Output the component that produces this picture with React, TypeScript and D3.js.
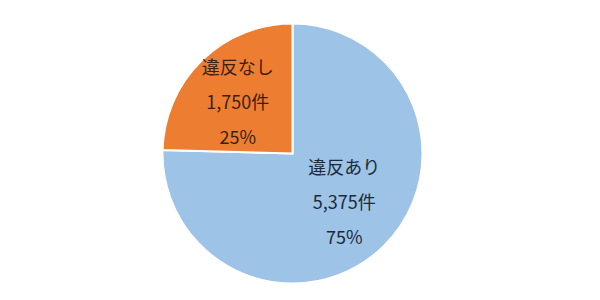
import React from "react";
import * as d3 from "d3";

const categories = ["違反あり", "違反なし"];
const counts = [5375, 1750];
const countLabels = ["5,375件", "1,750件"];
const percentLabels = ["75%", "25%"];
const colors = ["#9DC3E6", "#ED7D31"];
const textColors = ["#1c2a3a", "#3a1f12"];

// layout nudges for label blocks (px)
const LABEL_NUDGE: [number, number][] = [
  [1, -5],
  [-4, 0],
];

export default function App() {
  const width = 600;
  const height = 300;
  const cx = 292.5;
  const cy = 153.5;
  const r = 130;

  const data = categories.map((c, i) => ({ name: c, value: counts[i], i }));
  const pie = d3
    .pie<any>()
    .sort(null)
    .value((d) => d.value)
    .startAngle(0)
    .endAngle(2 * Math.PI);
  const arcs = pie(data);
  const arc = d3.arc<any>().innerRadius(0).outerRadius(r);
  const labelArc = d3.arc<any>().innerRadius(r * 0.56).outerRadius(r * 0.56);

  return (
    <svg
      width={width}
      height={height}
      style={{ position: "absolute", left: 0, top: 0, background: "#fff" }}
    >
      <g transform={`translate(${cx},${cy})`}>
        {arcs.map((a, k) => (
          <path
            key={k}
            d={arc(a) as string}
            fill={colors[a.data.i]}
            stroke="#ffffff"
            strokeWidth={2}
          />
        ))}
        {arcs.map((a, k) => {
          const [x0, y0] = labelArc.centroid(a);
          const i = a.data.i;
          const x = x0 + LABEL_NUDGE[i][0];
          const y = y0 + LABEL_NUDGE[i][1];
          const lines = [categories[i], countLabels[i], percentLabels[i]];
          return (
            <g key={"l" + k} transform={`translate(${x},${y})`}>
              {lines.map((t, j) => (
                <text
                  key={j}
                  x={0}
                  y={(j - 1) * 35}
                  textAnchor="middle"
                  dominantBaseline="central"
                  fontFamily="'Noto Sans CJK JP', 'Noto Sans', sans-serif"
                  fontSize={18}
                  fill={textColors[i]}
                >
                  {t}
                </text>
              ))}
            </g>
          );
        })}
      </g>
    </svg>
  );
}
